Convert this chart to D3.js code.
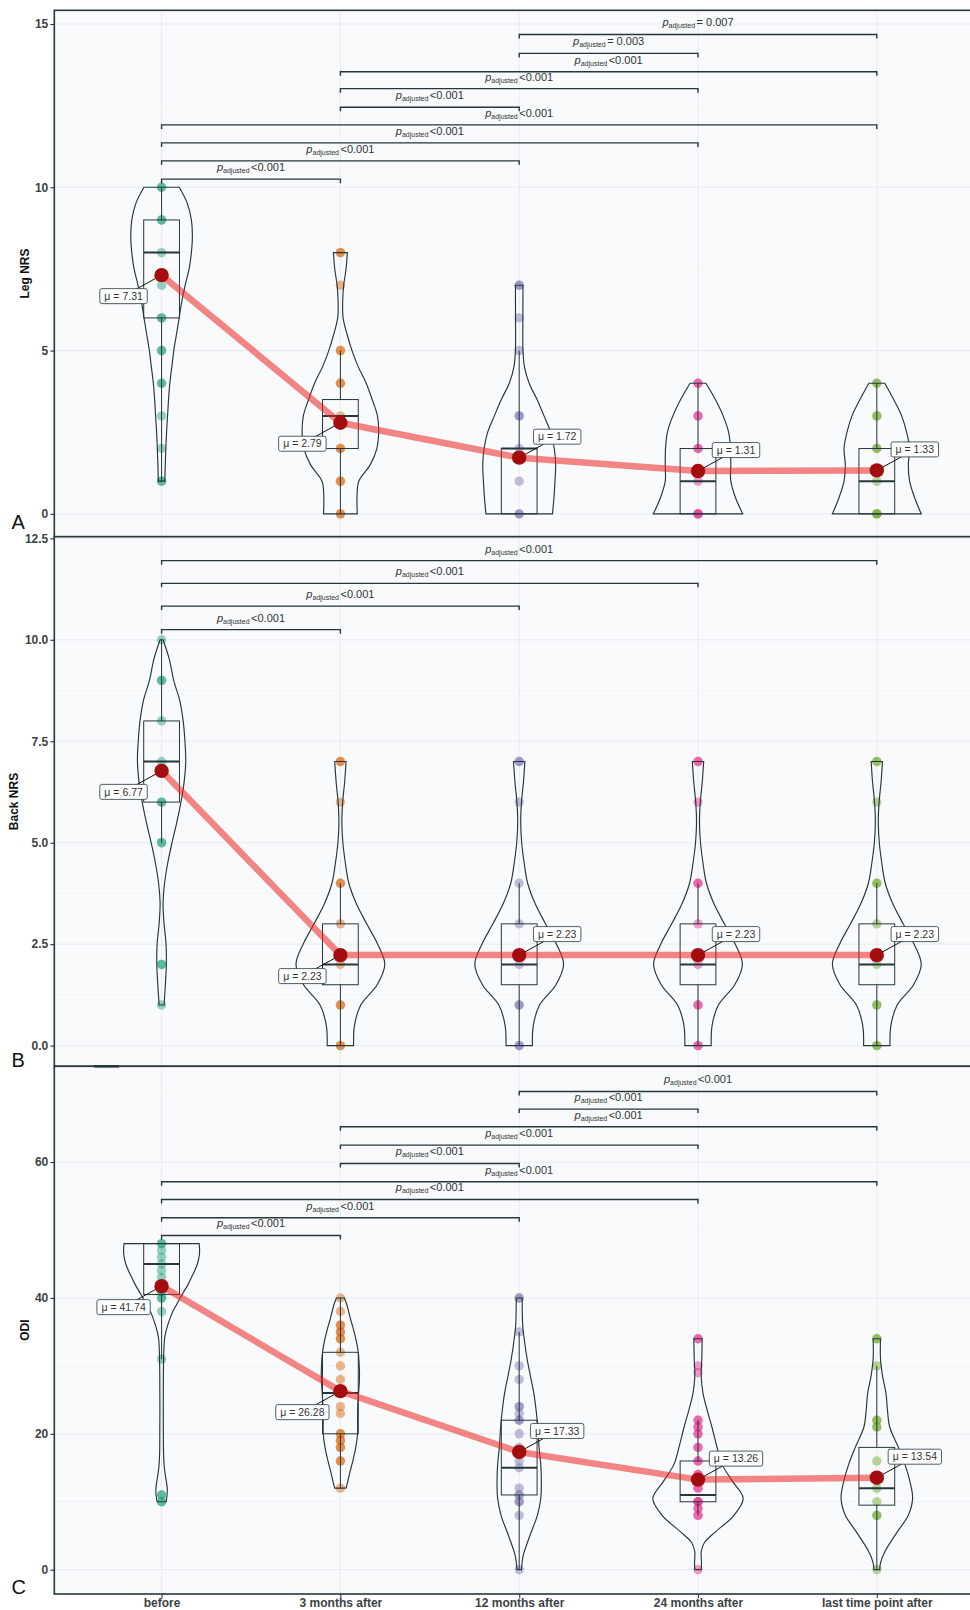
<!DOCTYPE html>
<html>
<head>
<meta charset="utf-8">
<script src="https://cdnjs.cloudflare.com/ajax/libs/d3/7.8.5/d3.min.js"></script>
<style>
  body { margin: 0; background: #fff; }
  svg { display: block; }
  text { font-family: "Liberation Sans", Arial, sans-serif; }
</style>
</head>
<body>
<div id="chart"></div>
<script>
// categories and group colours
const categories = ["before", "3 months after", "12 months after", "24 months after", "last time point after"];
const palette = ["#1B9E77", "#D95F02", "#7570B3", "#E7298A", "#66A61E"];

// ---- Leg NRS (panel A) ----
const legPoints = [
  [10, 10, 9, 9, 8, 7, 6, 6, 5, 5, 4, 4, 3, 2, 1, 1],
  [8, 8, 7, 5, 5, 4, 4, 3, 2, 2, 1, 1, 0, 0],
  [7, 7, 6, 5, 3, 3, 2, 1, 0, 0],
  [4, 4, 3, 3, 2, 2, 1, 0, 0, 0],
  [4, 4, 3, 3, 2, 2, 1, 0, 0, 0]
];
const legMeans = [7.31, 2.79, 1.72, 1.31, 1.33];
// [low whisker, q1, median, q3, high whisker]
const legBoxes = [[1, 6, 8, 9, 10], [0, 2, 3, 3.5, 5], [0, 0, 2, 2, 5], [0, 0, 1, 2, 4], [0, 0, 1, 2, 4]];
// violin outline: [value, relative density]
const legViolins = [
  [[10, 17.8], [9.5, 26], [9, 30], [8.5, 31], [8, 30], [7.5, 27.7], [7, 23.7], [6.5, 20.3], [6, 17.7], [5.5, 15], [5, 12.3], [4.5, 10.3], [4, 8.3], [3.5, 7], [3, 6], [2.5, 5], [2, 4.3], [1.5, 3.7], [1, 3.3]],
  [[8, 7], [7.5, 5.7], [7, 3.3], [6.5, 2.3], [6, 2.7], [5.5, 6.7], [5, 11.7], [4.5, 18], [4, 26], [3.5, 32], [3, 37.3], [2.5, 38.5], [2, 36.7], [1.5, 30], [1, 18.5], [0.5, 16.7], [0, 17]],
  [[7, 3.8], [6, 3.7], [5, 3.8], [4.5, 5.3], [4, 10], [3.5, 18], [3, 25], [2.5, 31.7], [2, 35.3], [1.5, 36.7], [1, 36], [0.5, 35], [0, 33.5]],
  [[4, 8], [3.5, 17.5], [3, 25.3], [2.5, 30.8], [2, 32.7], [1.5, 33], [1, 33], [0.5, 37.7], [0, 45]],
  [[4, 8], [3.5, 17], [3, 25], [2.5, 30], [2, 33], [1.5, 31.7], [1, 33], [0.5, 38], [0, 44.7]]
];
// [group a, group b, bracket height, p label]
const legPairs = [
  [0, 1, 10.25, "<0.001"], [0, 2, 10.81, "<0.001"], [0, 3, 11.36, "<0.001"], [0, 4, 11.91, "<0.001"],
  [1, 2, 12.45, "<0.001"], [1, 3, 13.02, "<0.001"], [1, 4, 13.54, "<0.001"],
  [2, 3, 14.10, "= 0.003"], [2, 4, 14.68, "= 0.007"]
];

// ---- Back NRS (panel B) ----
const backPoints = [
  [10, 9, 9, 8, 7, 6, 6, 5, 5, 2, 2, 1],
  [7, 7, 6, 4, 4, 3, 2, 1, 1, 0, 0],
  [7, 7, 6, 4, 3, 2, 1, 1, 0, 0],
  [7, 7, 6, 4, 4, 3, 2, 1, 1, 0, 0],
  [7, 7, 6, 4, 4, 3, 2, 1, 1, 0, 0]
];
const backMeans = [6.77, 2.23, 2.23, 2.23, 2.23];
const backBoxes = [[5, 6, 7, 8, 10], [0, 1.5, 2, 3, 4], [0, 1.5, 2, 3, 4], [0, 1.5, 2, 3, 4], [0, 1.5, 2, 3, 4]];
const backAfter = [[7, 5.7], [6.5, 4.3], [6, 2.3], [5.5, 1.5], [5, 2.5], [4.5, 5], [4, 8.5], [3.5, 16], [3, 26.5], [2.5, 37.5], [2, 44.7], [1.5, 37], [1, 20.5], [0.5, 14.2], [0, 13.3]];
const backViolins = [
  [[10, 1.5], [9.5, 8], [9, 12.2], [8.5, 18.3], [8, 21.7], [7.5, 23.5], [7, 24.3], [6.5, 22.7], [6, 19.5], [5.5, 15.3], [5, 10.5], [4.5, 6.2], [4, 3], [3.5, 1.5], [3, 2.5], [2.5, 4.5], [2, 4.8], [1.5, 3.8], [1, 2.5]],
  backAfter, backAfter, backAfter, backAfter
];
const backPairs = [
  [0, 1, 10.25, "<0.001"], [0, 2, 10.83, "<0.001"], [0, 3, 11.39, "<0.001"], [0, 4, 11.95, "<0.001"]
];

// ---- ODI (panel C) ----
const odiPoints = [
  [48, 48, 47, 46, 45, 44, 43, 41, 41, 40, 40, 38, 31, 11, 11, 10, 10],
  [40, 38, 36, 36, 35, 35, 34, 34, 32, 30, 28, 26, 24, 23, 20, 20, 19, 19, 18, 18, 16, 16, 12],
  [40, 40, 35, 30, 28, 24, 24, 23, 22, 22, 20, 18, 16, 15, 12, 11, 11, 10, 10, 8, 0],
  [34, 34, 30, 29, 22, 22, 21, 21, 20, 20, 18, 18, 16, 16, 14, 14, 12, 12, 10, 10, 10, 9, 9, 8, 8, 0],
  [34, 34, 30, 22, 22, 21, 21, 16, 12, 10, 8, 8, 0]
];
const odiMeans = [41.74, 26.28, 17.33, 13.26, 13.54];
const odiBoxes = [[31, 40.5, 45, 48, 48], [12, 20, 26, 32, 40], [0, 11, 15, 22, 35], [8, 10, 11, 16, 22], [0, 9.5, 12, 18, 30]];
const odiViolins = [
  [[48, 37.8], [47, 38.3], [46, 37.7], [45, 36], [44, 33.3], [43, 30], [42, 26.7], [41, 22.7], [40, 18.7], [39, 15], [38, 11.3], [37, 8.5], [36, 6.2], [35, 4.3], [34, 3], [32, 2.2], [28, 1.8], [24, 1.7], [20, 1.8], [17, 2], [15, 2.8], [14, 3.7], [12, 5.7], [11, 5.5], [10, 4.5]],
  [[40, 4], [39, 6.5], [37, 10], [36, 12], [34, 15.5], [32, 18], [30, 19], [28, 19.2], [26, 18.3], [24, 17.5], [22, 17.3], [20, 17.3], [18, 15.5], [16, 12.5], [14, 9], [13, 7.5], [12, 5.7]],
  [[40, 3], [36, 3.5], [34, 5], [31, 8], [28.5, 11.3], [26, 14.7], [23.5, 17], [21, 18.7], [18, 20], [15.5, 21.7], [13, 22.3], [10.5, 21.7], [8, 18.3], [5.5, 12], [2.5, 4.8], [1.5, 3.3], [0, 2.3]],
  [[34, 4.2], [31, 3.8], [28.5, 3.2], [26, 5], [23.5, 9.2], [21, 14], [18, 19.2], [15.5, 24.2], [13, 34.8], [10.5, 45.5], [8, 36.2], [5.5, 17], [4, 6.5], [2.7, 3.3], [1, 3.5], [0, 3.2]],
  [[34, 3.7], [31, 3.7], [28.5, 5.8], [26, 9.2], [23.5, 10.7], [21, 13], [18, 21.7], [15.5, 28.3], [13, 33.3], [10.5, 36], [8, 31.7], [5.5, 20.3], [2.7, 8.3], [1, 3.7], [0, 3]]
];
const odiPairs = [
  [0, 1, 49.2, "<0.001"], [0, 2, 51.8, "<0.001"], [0, 3, 54.5, "<0.001"], [0, 4, 57.1, "<0.001"],
  [1, 2, 59.8, "<0.001"], [1, 3, 62.5, "<0.001"], [1, 4, 65.2, "<0.001"],
  [2, 3, 67.8, "<0.001"], [2, 4, 70.4, "<0.001"]
];

// which side the mean label sits on (-1 = lower left, 1 = upper right)
const labelSide = [-1, -1, 1, 1, 1];

const panels = [
  { letter: "A", title: "Leg NRS", titleX: 29, top: 10.3, bottom: 536.7, domain: [-0.70, 15.42],
    major: [0, 5, 10, 15], minor: [2.5, 7.5, 12.5], fmt: d3.format("d"),
    points: legPoints, means: legMeans, boxes: legBoxes, violins: legViolins, pairs: legPairs, letterY: 528.5 },
  { letter: "B", title: "Back NRS", titleX: 18, top: 536.7, bottom: 1066.3, domain: [-0.51, 12.54],
    major: [0, 2.5, 5, 7.5, 10, 12.5], minor: [1.25, 3.75, 6.25, 8.75, 11.25], fmt: d3.format(".1f"),
    points: backPoints, means: backMeans, boxes: backBoxes, violins: backViolins, pairs: backPairs, letterY: 1067 },
  { letter: "C", title: "ODI", titleX: 29, top: 1066.3, bottom: 1594, domain: [-3.58, 74.1],
    major: [0, 20, 40, 60], minor: [10, 30, 50, 70], fmt: d3.format("d"),
    points: odiPoints, means: odiMeans, boxes: odiBoxes, violins: odiViolins, pairs: odiPairs, letterY: 1594, xAxis: true }
];

const W = 970, H = 1610;
const left = 54.3, right = 984.1;
const ink = "#25373b";
const textCol = "#3b4242";

const svg = d3.select("#chart").append("svg")
    .attr("width", W)
    .attr("height", H);

const x = d3.scalePoint().domain(categories).range([left, right]).padding(0.6);
const widthScale = d3.scaleLinear().domain([0, 45]).range([0, x.step() * 0.25]);
const boxHalf = x.step() * 0.1;

panels.forEach(p => {
  const y = d3.scaleLinear().domain(p.domain).range([p.bottom, p.top]);
  const g = svg.append("g");

  // panel background and grid
  g.append("rect")
    .attr("x", left).attr("y", p.top)
    .attr("width", right - left).attr("height", p.bottom - p.top)
    .attr("fill", "#f8fafb");
  g.selectAll(".minor").data(p.minor).join("line")
    .attr("x1", left).attr("x2", right)
    .attr("y1", d => y(d)).attr("y2", d => y(d))
    .attr("stroke", "#eef2f4").attr("stroke-width", 0.6);
  g.selectAll(".major").data(p.major).join("line")
    .attr("x1", left).attr("x2", right)
    .attr("y1", d => y(d)).attr("y2", d => y(d))
    .attr("stroke", "#e6ebee").attr("stroke-width", 0.9);
  g.selectAll(".vgrid").data(categories).join("line")
    .attr("x1", d => x(d)).attr("x2", d => x(d))
    .attr("y1", p.top).attr("y2", p.bottom)
    .attr("stroke", "#e6ebee").attr("stroke-width", 0.9);

  categories.forEach((c, i) => {
    const cx = x(c);
    const col = palette[i];

    // raw points
    g.append("g").selectAll("circle").data(p.points[i]).join("circle")
      .attr("cx", cx).attr("cy", d => y(d)).attr("r", 4.7)
      .attr("fill", col).attr("fill-opacity", 0.45);

    // boxplot
    const [lo, q1, med, q3, hi] = p.boxes[i];
    g.append("line").attr("x1", cx).attr("x2", cx).attr("y1", y(q3)).attr("y2", y(hi))
      .attr("stroke", ink).attr("stroke-width", 1);
    g.append("line").attr("x1", cx).attr("x2", cx).attr("y1", y(q1)).attr("y2", y(lo))
      .attr("stroke", ink).attr("stroke-width", 1);
    g.append("rect")
      .attr("x", cx - boxHalf).attr("y", y(q3))
      .attr("width", boxHalf * 2).attr("height", y(q1) - y(q3))
      .attr("fill", "none").attr("stroke", ink).attr("stroke-width", 1);
    g.append("line").attr("x1", cx - boxHalf).attr("x2", cx + boxHalf)
      .attr("y1", y(med)).attr("y2", y(med))
      .attr("stroke", ink).attr("stroke-width", 2);

    // violin
    const area = d3.area()
      .y(d => y(d[0]))
      .x0(d => cx - widthScale(d[1]))
      .x1(d => cx + widthScale(d[1]))
      .curve(d3.curveCatmullRom.alpha(0.5));
    g.append("path").datum(p.violins[i])
      .attr("d", area)
      .attr("fill", "none").attr("stroke", ink).attr("stroke-width", 1.15);
  });

  // pairwise comparison brackets
  p.pairs.forEach(([a, b, v, lab]) => {
    const x1 = x(categories[a]), x2 = x(categories[b]), yy = y(v);
    g.append("path")
      .attr("d", `M${x1},${yy + 4}L${x1},${yy}L${x2},${yy}L${x2},${yy + 4}`)
      .attr("fill", "none").attr("stroke", ink).attr("stroke-width", 1.4);
    const t = g.append("text")
      .attr("x", (x1 + x2) / 2).attr("y", yy - 8)
      .attr("text-anchor", "middle").attr("fill", "#2f3535");
    t.append("tspan").attr("font-style", "italic").attr("font-size", 11).text("p");
    t.append("tspan").attr("font-size", 7).attr("dy", 2).text("adjusted");
    t.append("tspan").attr("font-size", 11).attr("dy", -2).attr("dx", 1.5).text(lab);
  });

  // mean path
  const meanLine = d3.line()
    .x((d, i) => x(categories[i]))
    .y(d => y(d));
  g.append("path").datum(p.means)
    .attr("d", meanLine)
    .attr("fill", "none").attr("stroke", "#ee2222").attr("stroke-opacity", 0.55)
    .attr("stroke-width", 6.5).attr("stroke-linejoin", "round");

  // mean points and labels
  p.means.forEach((m, i) => {
    const cx = x(categories[i]), cy = y(m);
    const lx = cx + labelSide[i] * 38, ly = cy - labelSide[i] * 21;
    g.append("line").attr("x1", cx).attr("y1", cy).attr("x2", lx).attr("y2", ly)
      .attr("stroke", "#111").attr("stroke-width", 1);
    g.append("circle").attr("cx", cx).attr("cy", cy).attr("r", 7.2)
      .attr("fill", "#a30d0d");
    const lg = g.append("g").attr("transform", `translate(${lx},${ly})`);
    const rect = lg.append("rect");
    const txt = lg.append("text")
      .attr("text-anchor", "middle").attr("dy", "0.35em")
      .attr("font-size", 10.5).attr("fill", "#333")
      .text(`\u03bc = ${m.toFixed(2)}`);
    const tw = txt.node().getComputedTextLength() + 9;
    rect.attr("x", -tw / 2).attr("y", -7.5).attr("width", tw).attr("height", 15)
      .attr("rx", 2).attr("fill", "#fff").attr("stroke", "#3a4d52").attr("stroke-width", 0.9);
  });

  // y axis
  const yAxis = d3.axisLeft(y).tickValues(p.major).tickFormat(p.fmt).tickSize(4).tickPadding(2);
  const ag = g.append("g").attr("transform", `translate(${left},0)`).call(yAxis);
  ag.select(".domain").remove();
  ag.selectAll("line").attr("stroke", ink).attr("stroke-width", 1.1);
  ag.selectAll("text").attr("font-size", 12).attr("font-weight", "bold")
    .attr("fill", textCol).style("font-family", '"Liberation Sans", Arial, sans-serif');

  // x axis (bottom panel only)
  if (p.xAxis) {
    const xAxis = d3.axisBottom(x).tickSize(4).tickPadding(0.5);
    const xg = g.append("g").attr("transform", `translate(0,${p.bottom})`).call(xAxis);
    xg.select(".domain").remove();
    xg.selectAll("line").attr("stroke", ink).attr("stroke-width", 1.1);
    xg.selectAll("text").attr("font-size", 12).attr("font-weight", "bold")
      .attr("fill", textCol).style("font-family", '"Liberation Sans", Arial, sans-serif');
  }

  // panel border
  g.append("rect")
    .attr("x", left).attr("y", p.top)
    .attr("width", right - left).attr("height", p.bottom - p.top)
    .attr("fill", "none").attr("stroke", ink).attr("stroke-width", 1.6);

  // axis title
  g.append("text")
    .attr("transform", `translate(${p.titleX},${(p.top + p.bottom) / 2}) rotate(-90)`)
    .attr("text-anchor", "middle")
    .attr("font-size", 12).attr("font-weight", "bold").attr("fill", "#111")
    .text(p.title);

  // panel letter
  g.append("text")
    .attr("x", 11.5).attr("y", p.letterY)
    .attr("font-size", 20).attr("fill", "#111")
    .text(p.letter);
});

// darker seam where panels B and C meet
svg.append("line").attr("x1", 94).attr("x2", 119).attr("y1", 1066.3).attr("y2", 1066.3)
  .attr("stroke", ink).attr("stroke-width", 2.6);
</script>
</body>
</html>
